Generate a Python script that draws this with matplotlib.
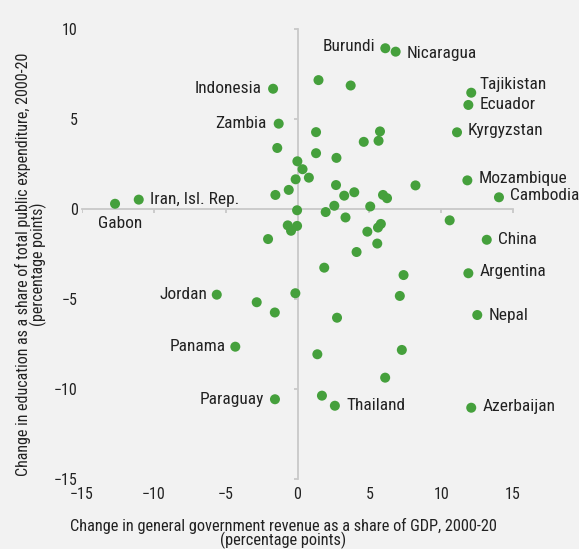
import matplotlib
matplotlib.use("Agg")
import matplotlib.pyplot as plt

plt.rcParams['font.family'] = ['Liberation Sans Narrow', 'Roboto Condensed', 'Lato', 'DejaVu Sans']

# change in government revenue (% of GDP) and change in education share of spending, 2000-20
revenue = [
    -12.70, -11.05, -1.70, -1.31, -1.41, 1.46, 3.70, 6.11, 6.83, 12.09,
    11.89, 11.10, 1.29, 5.74, 4.61, 5.64, 1.29, 2.71, -0.01, 0.35,
    -0.13, 0.79, -0.61, -1.54, 2.68, 3.25, 3.95, 5.95, 6.23, 8.21,
    11.82, 14.02, 5.06, 2.56, -0.03, 1.96, 3.34, 10.59, -0.68, -0.03,
    -0.45, -2.05, 4.86, 5.80, 5.60, 5.55, 4.11, 13.17, 11.89, 1.86,
    7.38, 7.12, -0.15, -5.62, -2.84, -1.58, 2.75, 12.51, -4.33, 1.38,
    7.26, 6.10, 1.70, 2.60, -1.57, 12.09,
]
education = [
    0.29, 0.52, 6.68, 4.74, 3.39, 7.16, 6.86, 8.93, 8.74, 6.46,
    5.78, 4.26, 4.27, 4.31, 3.73, 3.79, 3.10, 2.84, 2.65, 2.21,
    1.65, 1.74, 1.06, 0.78, 1.33, 0.74, 0.93, 0.78, 0.60, 1.31,
    1.59, 0.65, 0.14, 0.18, -0.07, -0.17, -0.47, -0.63, -0.91, -0.94,
    -1.21, -1.67, -1.26, -0.83, -1.03, -1.92, -2.39, -1.71, -3.57, -3.26,
    -3.67, -4.83, -4.68, -4.76, -5.18, -5.75, -6.04, -5.89, -7.65, -8.07,
    -7.83, -9.37, -10.37, -10.93, -10.57, -11.04,
]

# labelled countries: name, index into the arrays, label offset (points), alignment
labels = [
    ("Gabon", 0, (4, -14), "center"),
    ("Iran, Isl. Rep.", 1, (8, 0), "left"),
    ("Indonesia", 2, (-8, 0), "right"),
    ("Zambia", 3, (-9, 0), "right"),
    ("Burundi", 7, (-7, 1), "right"),
    ("Nicaragua", 8, (8, -1), "left"),
    ("Tajikistan", 9, (6, 6), "left"),
    ("Ecuador", 10, (8, 0), "left"),
    ("Kyrgyzstan", 11, (8, 1), "left"),
    ("Mozambique", 30, (8, 1), "left"),
    ("Cambodia", 31, (8, 1), "left"),
    ("China", 47, (8, 0), "left"),
    ("Argentina", 48, (8, 1), "left"),
    ("Jordan", 53, (-7, 0), "right"),
    ("Nepal", 57, (8, 0), "left"),
    ("Panama", 58, (-7, 0), "right"),
    ("Thailand", 63, (8, 0), "left"),
    ("Paraguay", 64, (-8, 0), "right"),
    ("Azerbaijan", 65, (8, 1), "left"),
]

xticks = [-15, -10, -5, 0, 5, 10, 15]
yticks = [-15, -10, -5, 0, 5, 10]

bg = "#f2f2f2"
green = "#45a03c"
axis_grey = "#c9c9c9"
text_col = "#222222"

fig = plt.figure(figsize=(5.79, 5.49), dpi=100, facecolor=bg)
ax = fig.add_axes([0.1416, 0.1275, 0.8584, 0.8361], facecolor=bg)
ax.set_xlim(-15, 19.59)
ax.set_ylim(-15, 10.5)
for s in ax.spines.values():
    s.set_visible(False)

# zero lines acting as axes
ax.plot([xticks[0], xticks[-1]], [0, 0], color=axis_grey, lw=1.3, zorder=1, clip_on=False)
ax.plot([0, 0], [yticks[0], yticks[-1]], color=axis_grey, lw=1.3, zorder=1, clip_on=False)
ax.plot(xticks, [0] * len(xticks), ls="none", marker=3, ms=3, mec=axis_grey, mew=1.3, zorder=1)
ax.plot([0] * len(yticks), yticks, ls="none", marker=0, ms=3, mec=axis_grey, mew=1.3, zorder=1)

ax.scatter(revenue, education, s=52, color=green, edgecolors="none", zorder=3)

for name, i, off, ha in labels:
    ax.annotate(name, (revenue[i], education[i]), xytext=off, textcoords="offset points",
                ha=ha, va="center", fontsize=12.5, color=text_col)

ax.set_xticks(xticks)
ax.set_yticks(yticks)
ax.tick_params(axis="x", length=0, pad=6, labelsize=11.5, labelcolor=text_col)
ax.tick_params(axis="y", length=0, pad=3, labelsize=11.5, labelcolor=text_col)

ax.set_xlabel("Change in general government revenue as a share of GDP, 2000-20\n(percentage points)",
              fontsize=11.8, color=text_col, linespacing=0.85)
ax.set_ylabel("Change in education as a share of total public expenditure, 2000-20\n(percentage points)",
              fontsize=11.5, color=text_col, linespacing=0.85)
ax.xaxis.set_label_coords(0.405, -0.085)
ax.yaxis.set_label_coords(-0.071, 0.468)

fig.savefig("out.png", dpi=100, facecolor=bg)
